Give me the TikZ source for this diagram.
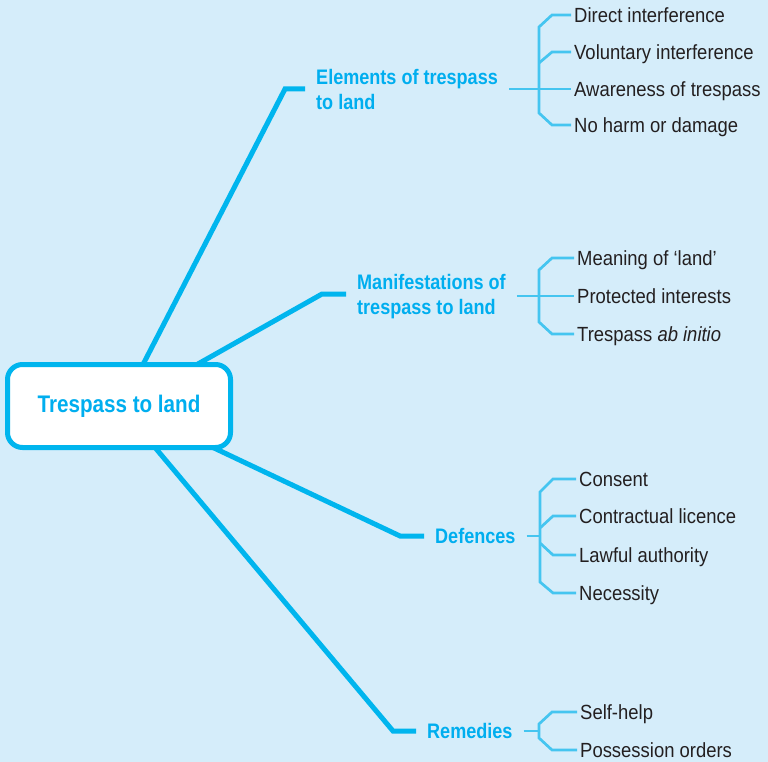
\documentclass[tikz,border=0pt]{standalone}
\usepackage{fontspec}
\setmainfont{Liberation Sans}[FakeStretch=0.9,BoldFeatures={FakeStretch=0.86}]
\usetikzlibrary{backgrounds}
\definecolor{paper}{HTML}{D5EDFA}
\definecolor{trunk}{HTML}{00B5EE}
\definecolor{twigc}{HTML}{45C5F0}
\definecolor{heading}{HTML}{00AEEF}
\definecolor{ink}{HTML}{231F20}
\tikzset{
  rootbox/.style={draw=trunk, line width=5pt, fill=white, rounded corners=15pt,
    minimum width=223pt, minimum height=83pt, outer sep=0pt,
    font=\fontsize{24}{28}\selectfont\bfseries, text=heading},
  topic/.style={anchor=west, align=left, inner xsep=11pt, inner ysep=0pt,
    text depth=0pt, font=\fontsize{21}{25}\selectfont\bfseries, text=heading},
  leaf/.style={anchor=west, inner xsep=3pt, inner ysep=0pt, text height=15pt,
    text depth=0pt, font=\fontsize{20.5}{24}\selectfont, text=ink},
  trunkline/.style={draw=trunk, line width=5pt},
  twig/.style={draw=twigc, line width=2.7pt},
}

\begin{document}
\begin{tikzpicture}[x=1pt,y=-1pt]
    \useasboundingbox (0,0) rectangle (768,762);

    \node[rootbox] (root) at (119,406) {Trespass to land};

    % main branches
    \node[topic] (elem) at (305,89) {Elements of trespass\\to land};
    \node[topic] (mani) at (346,294) {Manifestations of\\trespass to land};
    \node[topic] (defe) at (424,536) {Defences};
    \node[topic] (reme) at (416,731) {Remedies};

    % leaves
    \node[leaf] (e1) at (571,15) {Direct interference};
    \node[leaf] (e2) at (571,52) {Voluntary interference};
    \node[leaf] (e3) at (571,89) {Awareness of trespass};
    \node[leaf] (e4) at (571,125) {No harm or damage};

    \node[leaf] (m1) at (574,258) {Meaning of `land'};
    \node[leaf] (m2) at (574,296) {Protected interests};
    \node[leaf] (m3) at (574,334) {Trespass \textit{ab initio}};

    \node[leaf] (d1) at (576,479) {Consent};
    \node[leaf] (d2) at (576,516) {Contractual licence};
    \node[leaf] (d3) at (576,555) {Lawful authority};
    \node[leaf] (d4) at (576,593) {Necessity};

    \node[leaf] (r1) at (577,712) {Self-help};
    \node[leaf] (r2) at (577,750) {Possession orders};

    \begin{scope}[on background layer]
        \fill[paper] (0,0) rectangle (768,762);

        \draw[trunkline] ([xshift=24pt]root.north) -- (285,89) -- (elem.west);
        \draw[trunkline] ([xshift=78pt]root.north) -- (322,294) -- (mani.west);
        \draw[trunkline] ([xshift=94pt]root.south) -- (400,536) -- (defe.west);
        \draw[trunkline] ([xshift=36pt]root.south) -- (393,731) -- (reme.west);

        % brackets
        \draw[twig] (elem.east) -- (e3.west);
        \draw[twig] (e1.west) -- (552,15) -- (539,27) -- (539,113) -- (552,125) -- (e4.west);
        \draw[twig] (e2.west) -- (552,52) -- (539,63);

        \draw[twig] (mani.east |- m2.west) -- (m2.west);
        \draw[twig] (m1.west) -- (552,258) -- (539,270) -- (539,322) -- (552,334) -- (m3.west);

        \draw[twig] (defe.east) -- (540,536);
        \draw[twig] (d1.west) -- (553,479) -- (540,492) -- (540,582) -- (553,593) -- (d4.west);
        \draw[twig] (d2.west) -- (553,516) -- (540,528);
        \draw[twig] (d3.west) -- (553,555) -- (540,543);

        \draw[twig] (reme.east) -- (539,731);
        \draw[twig] (r1.west) -- (552,712) -- (539,724) -- (539,738) -- (552,750) -- (r2.west);
    \end{scope}
\end{tikzpicture}
\end{document}
